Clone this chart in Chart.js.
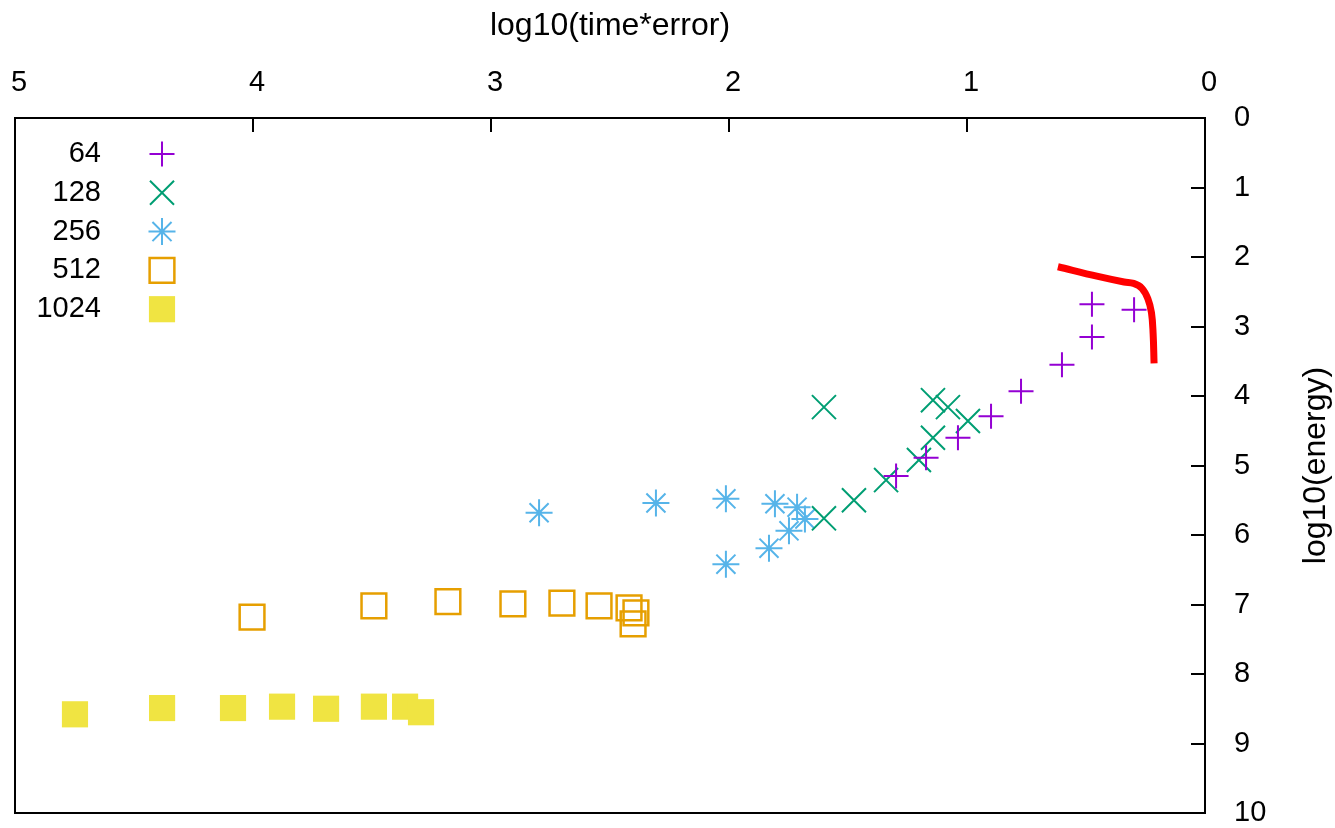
<!DOCTYPE html>
<html>
<head>
<meta charset="utf-8">
<script src="https://cdn.jsdelivr.net/npm/chart.js@4/dist/chart.umd.min.js"></script>
<style>
  html, body { margin: 0; padding: 0; background: #fff; }
  #wrap { width: 1335px; height: 828px; }
</style>
</head>
<body>
<div id="wrap"><canvas id="energyChart" width="1335" height="828"></canvas></div>
<script>
// grid sizes (legend labels)
const sizeLabels = ['64', '128', '256', '512', '1024'];

// log10(time*error) / log10(energy)
const x64 = [0.475, 0.298, 0.475, 0.601, 0.773, 0.899, 1.038, 1.172, 1.298];
const y64 = [2.68, 2.76, 3.15, 3.55, 3.93, 4.29, 4.60, 4.89, 5.15];

const x128 = [1.601, 1.143, 1.080, 0.996, 1.143, 1.202, 1.340, 1.475, 1.601];
const y128 = [4.16, 4.06, 4.16, 4.36, 4.60, 4.92, 5.21, 5.50, 5.76];

const x256 = [2.798, 2.307, 2.013, 1.807, 1.714, 1.681, 1.748, 1.832, 2.013];
const y256 = [5.68, 5.54, 5.48, 5.55, 5.60, 5.77, 5.94, 6.19, 6.42];

const x512 = [4.004, 3.492, 3.181, 2.908, 2.702, 2.546, 2.420, 2.391, 2.403];
const y512 = [7.18, 7.02, 6.96, 6.99, 6.98, 7.02, 7.05, 7.12, 7.28];

const x1024 = [4.748, 4.382, 4.084, 3.878, 3.693, 3.492, 3.361, 3.294];
const y1024 = [8.58, 8.49, 8.49, 8.47, 8.50, 8.47, 8.47, 8.55];

// red front curve
const xFront = [0.618, 0.45, 0.34, 0.30, 0.265, 0.24, 0.225, 0.218, 0.214];
const yFront = [2.14, 2.28, 2.36, 2.38, 2.45, 2.60, 2.80, 3.10, 3.53];

const xTicks = [0, 1, 2, 3, 4, 5];
const yTicks = [0, 1, 2, 3, 4, 5, 6, 7, 8, 9, 10];

const FONT = '"Liberation Sans", Arial, sans-serif';

function toPoints(xs, ys) {
  return xs.map((x, i) => ({ x: x, y: ys[i] }));
}

const datasets = [{
  label: sizeLabels[0],
  data: toPoints(x64, y64),
  pointStyle: 'cross',
  pointRadius: 12.5,
  borderColor: '#9400d3',
  backgroundColor: 'rgba(0,0,0,0)',
  pointBorderWidth: 2
}, {
  label: sizeLabels[1],
  data: toPoints(x128, y128),
  pointStyle: 'crossRot',
  pointRadius: 17,
  borderColor: '#009e73',
  backgroundColor: 'rgba(0,0,0,0)',
  pointBorderWidth: 2
}, {
  label: sizeLabels[2],
  data: toPoints(x256, y256),
  pointStyle: 'star',
  pointRadius: 13.5,
  borderColor: '#56b4e9',
  backgroundColor: 'rgba(0,0,0,0)',
  pointBorderWidth: 2
}, {
  label: sizeLabels[3],
  data: toPoints(x512, y512),
  pointStyle: 'rect',
  pointRadius: 17.5,
  borderColor: '#e69f00',
  backgroundColor: 'rgba(0,0,0,0)',
  pointBorderWidth: 2.5
}, {
  label: sizeLabels[4],
  data: toPoints(x1024, y1024),
  pointStyle: 'rect',
  pointRadius: 18.5,
  borderColor: '#f0e442',
  backgroundColor: '#f0e442',
  pointBorderWidth: 0
}, {
  label: 'front',
  type: 'line',
  data: toPoints(xFront, yFront),
  showLine: true,
  borderColor: '#ff0000',
  borderWidth: 7,
  borderCapStyle: 'butt',
  pointRadius: 0,
  tension: 0.4,
  fill: false
}];

function manualPoint(ctx, o, x, y) {
  const r = o.radius;
  ctx.beginPath();
  if (o.pointStyle === 'rect') {
    const s = r * Math.SQRT1_2;
    ctx.rect(x - s, y - s, 2 * s, 2 * s);
    ctx.fill();
  } else {
    if (o.pointStyle !== 'crossRot') {
      ctx.moveTo(x - r, y); ctx.lineTo(x + r, y);
      ctx.moveTo(x, y - r); ctx.lineTo(x, y + r);
    }
    if (o.pointStyle !== 'cross') {
      const d = r * Math.SQRT1_2;
      ctx.moveTo(x - d, y - d); ctx.lineTo(x + d, y + d);
      ctx.moveTo(x + d, y - d); ctx.lineTo(x - d, y + d);
    }
  }
  if (o.borderWidth > 0) ctx.stroke();
}

// keep the layout from adding room for overhanging tick labels
function noLabelPadding(scale) {
  scale.paddingLeft = 0;
  scale.paddingRight = 0;
  scale.paddingTop = 0;
  scale.paddingBottom = 0;
}

// gnuplot style frame, inward ticks, key and right axis label
const gnuplotBits = {
  id: 'gnuplotBits',
  afterDraw(chart) {
    const ctx = chart.ctx;
    const area = chart.chartArea;
    const xs = chart.scales.x;
    const ys = chart.scales.y;
    ctx.save();
    ctx.strokeStyle = '#000';
    ctx.lineWidth = 2;
    ctx.strokeRect(area.left, area.top, area.right - area.left, area.bottom - area.top);
    ctx.beginPath();
    xTicks.forEach(v => {
      const px = Math.round(xs.getPixelForValue(v));
      ctx.moveTo(px, area.top);
      ctx.lineTo(px, area.top + 14);
    });
    yTicks.forEach(v => {
      const py = Math.round(ys.getPixelForValue(v));
      ctx.moveTo(area.right, py);
      ctx.lineTo(area.right - 14, py);
    });
    ctx.stroke();

    // key
    const drawPoint = (Chart.helpers && Chart.helpers.drawPoint) || manualPoint;
    ctx.font = '29px ' + FONT;
    ctx.textAlign = 'right';
    ctx.textBaseline = 'middle';
    for (let i = 0; i < 5; i++) {
      const ds = chart.data.datasets[i];
      const rowY = area.top + 36 + i * 38.8;
      ctx.fillStyle = '#000';
      ctx.fillText(ds.label, area.left + 86, rowY);
      ctx.strokeStyle = ds.borderColor;
      ctx.fillStyle = ds.backgroundColor;
      ctx.lineWidth = ds.pointBorderWidth;
      drawPoint(ctx, {
        pointStyle: ds.pointStyle,
        radius: ds.pointRadius,
        borderWidth: ds.pointBorderWidth,
        rotation: 0
      }, area.left + 147, rowY);
    }

    // y axis title, reading upwards
    ctx.fillStyle = '#000';
    ctx.font = '32px ' + FONT;
    ctx.textAlign = 'center';
    ctx.textBaseline = 'middle';
    ctx.translate(1316, (area.top + area.bottom) / 2);
    ctx.rotate(-Math.PI / 2);
    ctx.fillText('log10(energy)', 0, 0);
    ctx.restore();
  }
};

Chart.defaults.color = '#000';
Chart.defaults.font.family = FONT;

const energyChart = new Chart(document.getElementById('energyChart'), {
  type: 'scatter',
  data: { datasets: datasets },
  options: {
    responsive: false,
    animation: false,
    layout: {
      autoPadding: false,
      padding: { left: 15, right: 0, top: 0, bottom: 15 }
    },
    plugins: {
      legend: { display: false },
      tooltip: { enabled: false }
    },
    scales: {
      x: {
        type: 'linear',
        position: 'top',
        reverse: true,
        min: 0,
        max: 5,
        afterFit(scale) { scale.height = 118; noLabelPadding(scale); },
        afterBuildTicks(scale) { scale.ticks = xTicks.map(v => ({ value: v })); },
        grid: { display: false },
        border: { display: false },
        ticks: {
          font: { size: 29 },
          padding: 10,
          labelOffset: 4,
          maxRotation: 0,
          autoSkip: false
        },
        title: {
          display: true,
          text: 'log10(time*error)',
          font: { size: 32 },
          padding: { top: 7, bottom: 0 }
        }
      },
      y: {
        type: 'linear',
        position: 'right',
        reverse: true,
        min: 0,
        max: 10,
        afterFit(scale) { scale.width = 130; noLabelPadding(scale); },
        afterBuildTicks(scale) { scale.ticks = yTicks.map(v => ({ value: v })); },
        grid: { display: false },
        border: { display: false },
        ticks: {
          font: { size: 29 },
          padding: 21,
          autoSkip: false
        }
      }
    }
  },
  plugins: [gnuplotBits]
});
</script>
</body>
</html>
